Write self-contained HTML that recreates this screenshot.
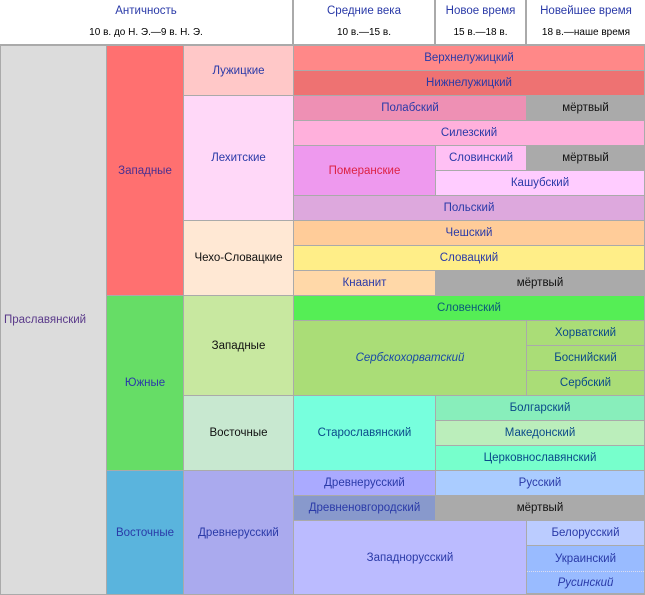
<!DOCTYPE html>
<html><head><meta charset="utf-8"><style>
body{margin:0;width:645px;height:595px;overflow:hidden;background:#fff;font-family:"Liberation Sans",Arial,sans-serif;}
#w{position:relative;width:645px;height:595px;background:#aaa;}
.c{position:absolute;display:flex;align-items:center;justify-content:center;text-align:center;font-size:11.5px;color:#2a3aa8;white-space:nowrap;overflow:hidden;box-sizing:border-box;}
.h{position:absolute;background:#fff;text-align:center;font-size:11.5px;color:#2a3aa8;}
.h div{height:22px;line-height:22px;}
.h .s{color:#000;font-size:10px;}
</style></head><body><div id="w">
<div class="h" style="left:0;top:0;width:292px;height:44px"><div>Античность</div><div class="s">10 в. до Н. Э.—9 в. Н. Э.</div></div>
<div class="h" style="left:294px;top:0;width:140px;height:44px"><div>Средние века</div><div class="s">10 в.—15 в.</div></div>
<div class="h" style="left:436px;top:0;width:89px;height:44px"><div>Новое время</div><div class="s">15 в.—18 в.</div></div>
<div class="h" style="left:527px;top:0;width:118px;height:44px"><div>Новейшее время</div><div class="s">18 в.—наше время</div></div>
<script>
function R(i){return 45+25*i;}
function c(x1,y1,x2,y2,bg,t,st){
 var d=document.createElement('div');d.className='c';
 var l=x1+1,tp=y1+1,w=x2-x1-1,h=y2-y1-1;
 if(x1==0){l=1;w=x2-1;}
 if(x2==645){w=645-l-1;}
 d.style.cssText='left:'+l+'px;top:'+tp+'px;width:'+w+'px;height:'+h+'px;background:'+bg+';'+(st||'');
 d.innerHTML=t;document.getElementById('w').appendChild(d);}
var K='color:#111;',D='#aaaaaa';
c(0,R(0),106,594,'#dcdcdc','Праславянский','color:#5a3a8a;justify-content:flex-start;padding-left:3px;');
c(106,R(0),183,R(10),'#ff7070','Западные','color:#4a3090;');
c(183,R(0),293,R(2),'#ffc8c8','Лужицкие');
c(293,R(0),645,R(1),'#ff8888','Верхнелужицкий');
c(293,R(1),645,R(2),'#ee7272','Нижнелужицкий');
c(183,R(2),293,R(7),'#ffd8f8','Лехитские');
c(293,R(2),526,R(3),'#ee90b4','Полабский');
c(526,R(2),645,R(3),D,'мёртвый',K);
c(293,R(3),645,R(4),'#ffb0dc','Силезский');
c(293,R(4),435,R(6),'#ee99ee','Померанские','color:#dd2244;');
c(435,R(4),526,R(5),'#ffc0f4','Словинский');
c(526,R(4),645,R(5),D,'мёртвый',K);
c(435,R(5),645,R(6),'#ffccff','Кашубский');
c(293,R(6),645,R(7),'#dda8dd','Польский');
c(183,R(7),293,R(10),'#ffe8d4','Чехо-Словацкие',K);
c(293,R(7),645,R(8),'#ffcc99','Чешский');
c(293,R(8),645,R(9),'#ffee88','Словацкий');
c(293,R(9),435,R(10),'#ffd8a8','Кнаанит');
c(435,R(9),645,R(10),D,'мёртвый',K);
c(106,R(10),183,R(17),'#66dd66','Южные');
c(183,R(10),293,R(14),'#c8e8a0','Западные',K);
c(293,R(10),645,R(11),'#55ee55','Словенский','color:#0a5a7a;');
c(293,R(11),526,R(14),'#aadd77','Сербскохорватский','font-style:italic;color:#1a4aa8;');
c(526,R(11),645,R(12),'#aadd77','Хорватский','color:#0a4a8a;');
c(526,R(12),645,R(13),'#aadd77','Боснийский','color:#0a4a8a;');
c(526,R(13),645,R(14),'#aadd77','Сербский','color:#0a4a8a;');
c(183,R(14),293,R(17),'#c8e8d0','Восточные',K);
c(293,R(14),435,R(17),'#77ffdd','Старославянский','color:#0a4a8a;');
c(435,R(14),645,R(15),'#88eebb','Болгарский','color:#0a4a8a;');
c(435,R(15),645,R(16),'#bbeebb','Македонский','color:#0a4a8a;');
c(435,R(16),645,R(17),'#77ffcc','Церковнославянский','color:#0a4a8a;');
c(106,R(17),183,594,'#5ab4dd','Восточные');
c(183,R(17),293,594,'#aaaaee','Древнерусский');
c(293,R(17),435,R(18),'#aaaaff','Древнерусский');
c(435,R(17),645,R(18),'#aaccff','Русский');
c(293,R(18),435,R(19),'#8899cc','Древненовгородский');
c(435,R(18),645,R(19),D,'мёртвый',K);
c(293,R(19),526,594,'#bbbbff','Западнорусский');
c(526,R(19),645,R(20),'#bbccff','Белорусский');
c(526,R(20),645,R(21),'#99bbff','Украинский','height:25px;');
c(526,R(21),645,594,'#99bbff','Русинский','font-style:italic;border-top:1px dotted #dde;top:571px;height:22px;');
</script>
</div></body></html>
